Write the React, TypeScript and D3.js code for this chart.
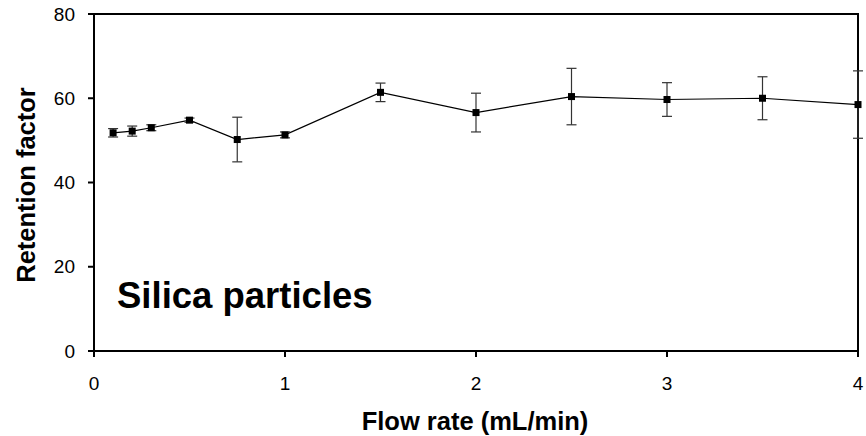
import React from 'react';
import * as d3 from 'd3';

const flowRate = [0.1, 0.2, 0.3, 0.5, 0.75, 1, 1.5, 2, 2.5, 3, 3.5, 4];
const retention = [51.8, 52.2, 53.0, 54.8, 50.2, 51.3, 61.4, 56.6, 60.4, 59.7, 60.0, 58.5];
const errors = [1.0, 1.2, 0.7, 0.5, 5.3, 0.7, 2.2, 4.6, 6.7, 4.0, 5.1, 8.0];
const xTicks = [0, 1, 2, 3, 4];
const yTicks = [0, 20, 40, 60, 80];

const margin = { top: 14, right: 8, bottom: 85, left: 94 };
const W = 866;
const H = 436;

export default function App() {
  const width = W - margin.left - margin.right;
  const height = H - margin.top - margin.bottom;
  const x = d3.scaleLinear().domain([0, 4]).range([0, width]);
  const y = d3.scaleLinear().domain([0, 80]).range([height, 0]);

  const pts = flowRate.map((f, i) => ({ f, v: retention[i], e: errors[i] }));
  const line = d3.line<{ f: number; v: number }>()
    .x(d => x(d.f))
    .y(d => y(d.v));

  const font = 'Arial, "Liberation Sans", sans-serif';

  return (
    <svg width={W} height={H} style={{ position: 'absolute', left: 0, top: 0 }} fontFamily={font}>
      <rect width={W} height={H} fill="#fff" />
      <g transform={`translate(${margin.left},${margin.top})`}>
        {/* frame */}
        <rect x={0} y={0} width={width} height={height} fill="none" stroke="#000" strokeWidth={2} />
        {yTicks.map(t => (
          <g key={'y' + t} transform={`translate(0,${y(t)})`}>
            <line x1={-6} x2={0} stroke="#000" strokeWidth={2} />
            <text x={-19} dy="0.35em" textAnchor="end" fontSize={19}>{t}</text>
          </g>
        ))}
        {xTicks.map(t => (
          <g key={'x' + t} transform={`translate(${x(t)},${height})`}>
            <line y1={0} y2={6} stroke="#000" strokeWidth={2} />
            <text y={39} textAnchor="middle" fontSize={19}>{t}</text>
          </g>
        ))}
        <path d={line(pts) || ''} fill="none" stroke="#000" strokeWidth={1.2} />
        {pts.map((d, i) => (
          <g key={'e' + i} stroke="#333" strokeWidth={1.2}>
            <line x1={x(d.f)} x2={x(d.f)} y1={y(d.v - d.e)} y2={y(d.v + d.e)} />
            <line x1={x(d.f) - 5} x2={x(d.f) + 5} y1={y(d.v - d.e)} y2={y(d.v - d.e)} />
            <line x1={x(d.f) - 5} x2={x(d.f) + 5} y1={y(d.v + d.e)} y2={y(d.v + d.e)} />
          </g>
        ))}
        {pts.map((d, i) => (
          <rect key={'m' + i} x={x(d.f) - 3.5} y={y(d.v) - 3.5} width={7} height={7} fill="#000" />
        ))}
        <text x={23} y={294} fontSize={36.5} fontWeight="bold">Silica particles</text>
      </g>
      <text x={475} y={430} textAnchor="middle" fontSize={25.5} fontWeight="bold">Flow rate (mL/min)</text>
      <text transform={`translate(35,185) rotate(-90)`} textAnchor="middle" fontSize={25.5} fontWeight="bold">Retention factor</text>
    </svg>
  );
}
